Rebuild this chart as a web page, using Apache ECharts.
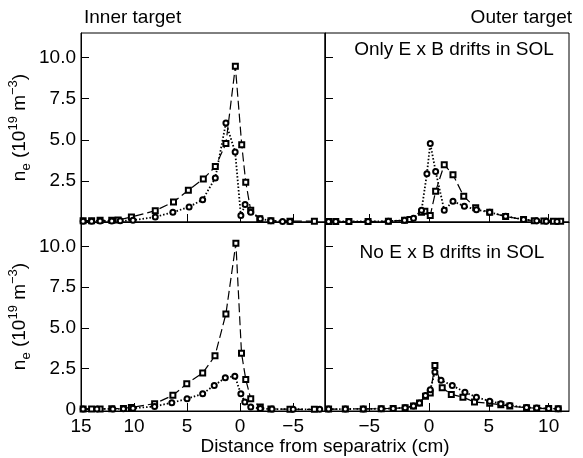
<!DOCTYPE html>
<html>
<head>
<meta charset="utf-8">
</head>
<body style="margin: 0">
<div id="container" style="width: 583px; height: 458px"></div>
<script src="https://cdn.jsdelivr.net/npm/echarts@6/dist/echarts.min.js"></script>
<script>
// [distance from separatrix (cm), n_e (1e19 m^-3)]
var innerDriftSquares = [[14.8,0.08],[14.0,0.08],[13.2,0.1],[12.1,0.1],[11.5,0.12],[10.25,0.3],[8.0,0.69],[6.28,1.22],[4.88,1.93],[3.47,2.62],[2.34,3.37],[1.34,4.77],[0.45,9.47],[-0.15,4.7],[-0.53,2.42],[-1.0,0.71],[-1.85,0.2],[-2.9,0.08],[-4.7,0.05],[-7.0,0.05]];
var innerDriftCircles = [[14.8,0.05],[14.0,0.05],[13.2,0.06],[12.1,0.06],[11.3,0.07],[10.1,0.1],[8.0,0.31],[6.34,0.59],[4.81,0.92],[3.53,1.36],[2.34,2.68],[1.34,6.03],[0.47,4.26],[-0.07,0.39],[-0.47,1.06],[-1.0,0.59],[-1.9,0.2],[-2.9,0.08],[-4.0,0.03],[-4.7,0.03]];
var outerDriftSquares = [[-8.4,0.03],[-7.8,0.03],[-6.7,0.03],[-5.1,0.03],[-3.4,0.05],[-2.05,0.1],[-1.6,0.15],[-0.63,0.6],[-0.35,0.65],[0.1,0.4],[0.55,1.87],[1.27,3.49],[2.0,2.88],[2.9,1.56],[3.9,0.86],[5.07,0.59],[6.4,0.33],[7.9,0.15],[8.8,0.08],[9.6,0.06],[10.4,0.05],[11.0,0.04]];
var outerDriftCircles = [[-8.4,0.03],[-7.8,0.03],[-6.7,0.03],[-5.1,0.03],[-3.4,0.05],[-2.05,0.1],[-1.3,0.23],[-0.63,0.71],[-0.18,2.94],[0.1,4.77],[0.55,3.08],[1.27,0.71],[2.0,1.26],[2.95,0.96],[3.96,0.75],[5.07,0.59],[6.4,0.35],[7.9,0.15],[9.0,0.08],[9.8,0.05],[10.7,0.03]];
var innerNoDriftSquares = [[14.8,0.03],[14.0,0.03],[13.2,0.03],[12.1,0.04],[11.0,0.06],[10.25,0.12],[8.06,0.35],[6.34,0.86],[5.03,1.57],[3.53,2.23],[2.37,3.29],[1.34,5.86],[0.4,10.19],[-0.13,3.45],[-0.53,1.84],[-1.0,0.65],[-1.9,0.14],[-2.9,0.03],[-4.7,0.01],[-7.0,0.0]];
var innerNoDriftCircles = [[14.8,0.02],[13.5,0.02],[12.0,0.03],[11.0,0.04],[10.1,0.07],[8.06,0.18],[6.44,0.41],[5.0,0.65],[3.53,0.96],[2.44,1.47],[1.4,1.94],[0.5,2.04],[-0.07,0.96],[-0.44,0.45],[-1.0,0.14],[-1.9,0.05],[-3.0,0.02],[-5.0,0.01],[-7.5,0.0]];
var outerNoDriftSquares = [[-8.4,0.02],[-7.0,0.02],[-5.5,0.03],[-4.0,0.04],[-3.0,0.06],[-2.0,0.1],[-1.3,0.2],[-0.8,0.39],[-0.3,0.8],[0.1,1.0],[0.49,2.7],[1.1,1.33],[1.86,0.92],[2.83,0.75],[3.8,0.45],[5.07,0.37],[6.0,0.28],[6.75,0.2],[8.15,0.1],[9.0,0.07],[10.0,0.05],[10.8,0.04]];
var outerNoDriftCircles = [[-8.4,0.02],[-7.0,0.02],[-5.5,0.03],[-4.0,0.04],[-3.0,0.06],[-2.0,0.1],[-1.3,0.2],[-0.8,0.39],[-0.3,0.85],[0.1,1.2],[0.49,2.29],[1.0,1.78],[1.94,1.47],[3.0,1.05],[3.96,0.75],[5.07,0.5],[6.0,0.35],[6.75,0.24],[8.15,0.12],[9.0,0.08],[10.0,0.05],[10.8,0.04]];

var innerTicks = [15, 10, 5, 0, -5];
var outerTicks = [-5, 0, 5, 10];
var yTicksTop = [2.5, 5, 7.5, 10];
var yTicksBottom = [0, 2.5, 5, 7.5, 10];

var FONT = "'Liberation Sans', Arial, sans-serif";
var dom = document.getElementById('container');
var myChart = echarts.init(dom);

function fmtX(v) {
  return v < 0 ? '\u2212' + Math.abs(v) : String(v);
}
function fmtY(v) {
  return v === 0 ? '0' : v.toFixed(1);
}

var yName = 'n{s|e} (10{p|19} m{p|\u22123})';
var yNameStyle = {
  fontSize: 19, fontFamily: FONT, color: '#000', lineHeight: 26,
  rich: {
    s: { fontSize: 13, fontFamily: FONT, lineHeight: 18, verticalAlign: 'bottom' },
    p: { fontSize: 13, fontFamily: FONT, lineHeight: 13, verticalAlign: 'top' }
  }
};

function xAxisFor(idx, inner, showLabels) {
  return {
    type: 'value', gridIndex: idx,
    min: inner ? -8 : -8.7, max: inner ? 15 : 11.7,
    inverse: inner,
    axisLine: { show: true, onZero: false, lineStyle: { color: '#000', width: 1 } },
    axisTick: { show: true, inside: true, length: 8, customValues: inner ? [10, 5, 0, -5] : outerTicks, lineStyle: { color: '#000' } },
    axisLabel: { show: showLabels, customValues: inner ? innerTicks : outerTicks, formatter: fmtX, fontSize: 19, fontFamily: FONT, color: '#000', margin: 6 },
    splitLine: { show: false }
  };
}
function yAxisFor(idx, top, left) {
  var ax = {
    type: 'value', gridIndex: idx,
    min: top ? 0 : -0.1, max: 11.5,
    axisLine: { show: true, onZero: false, lineStyle: { color: '#000', width: 1 } },
    axisTick: { show: true, inside: true, length: 8, customValues: yTicksTop, lineStyle: { color: '#000' } },
    axisLabel: { show: left, customValues: top ? yTicksTop : yTicksBottom, formatter: fmtY, fontSize: 19, fontFamily: FONT, color: '#000', margin: 5 },
    splitLine: { show: false }
  };
  if (left) {
    ax.name = yName;
    ax.nameLocation = 'middle';
    ax.nameRotate = 90;
    ax.nameGap = 48;
    ax.nameTextStyle = yNameStyle;
  }
  return ax;
}

function squareSeries(idx, data) {
  return {
    type: 'line', xAxisIndex: idx, yAxisIndex: idx, data: data,
    symbol: 'emptyRect', symbolSize: 5, silent: true, animation: false,
    itemStyle: { color: '#000', borderWidth: 0.8 },
    lineStyle: { color: '#000', width: 1.2, type: [9, 4] }
  };
}
function circleSeries(idx, data) {
  return {
    type: 'line', xAxisIndex: idx, yAxisIndex: idx, data: data,
    symbol: 'emptyCircle', symbolSize: 5, silent: true, animation: false,
    itemStyle: { color: '#000', borderWidth: 0.8 },
    lineStyle: { color: '#000', width: 1.8, type: [1.5, 2] }
  };
}

var gridBox = { show: true, borderColor: '#000', borderWidth: 1, containLabel: false };

var option = {
  backgroundColor: '#fff',
  animation: false,
  grid: [
    Object.assign({ left: 81, top: 33, width: 244, height: 189 }, gridBox),
    Object.assign({ left: 325, top: 33, width: 244, height: 189 }, gridBox),
    Object.assign({ left: 81, top: 222, width: 244, height: 189 }, gridBox),
    Object.assign({ left: 325, top: 222, width: 244, height: 189 }, gridBox)
  ],
  xAxis: [
    xAxisFor(0, true, false),
    xAxisFor(1, false, false),
    xAxisFor(2, true, true),
    xAxisFor(3, false, true)
  ],
  yAxis: [
    yAxisFor(0, true, true),
    yAxisFor(1, true, false),
    yAxisFor(2, false, true),
    yAxisFor(3, false, false)
  ],
  graphic: [
    { type: 'text', left: 84, top: 8, style: { text: 'Inner target', font: '19px ' + FONT, fill: '#000' } },
    { type: 'text', right: 11, top: 8, style: { text: 'Outer target', font: '19px ' + FONT, fill: '#000' } },
    { type: 'text', x: 454, y: 50, style: { text: 'Only E x B drifts in SOL', font: '19px ' + FONT, fill: '#000', align: 'center', verticalAlign: 'middle' } },
    { type: 'text', x: 452, y: 253, style: { text: 'No E x B drifts in SOL', font: '19px ' + FONT, fill: '#000', align: 'center', verticalAlign: 'middle' } },
    { type: 'text', x: 325, y: 447, style: { text: 'Distance from separatrix (cm)', font: '19px ' + FONT, fill: '#000', align: 'center', verticalAlign: 'middle' } }
  ],
  series: [
    squareSeries(0, innerDriftSquares),
    circleSeries(0, innerDriftCircles),
    squareSeries(1, outerDriftSquares),
    circleSeries(1, outerDriftCircles),
    squareSeries(2, innerNoDriftSquares),
    circleSeries(2, innerNoDriftCircles),
    squareSeries(3, outerNoDriftSquares),
    circleSeries(3, outerNoDriftCircles)
  ]
};

myChart.setOption(option);
</script>
</body>
</html>
